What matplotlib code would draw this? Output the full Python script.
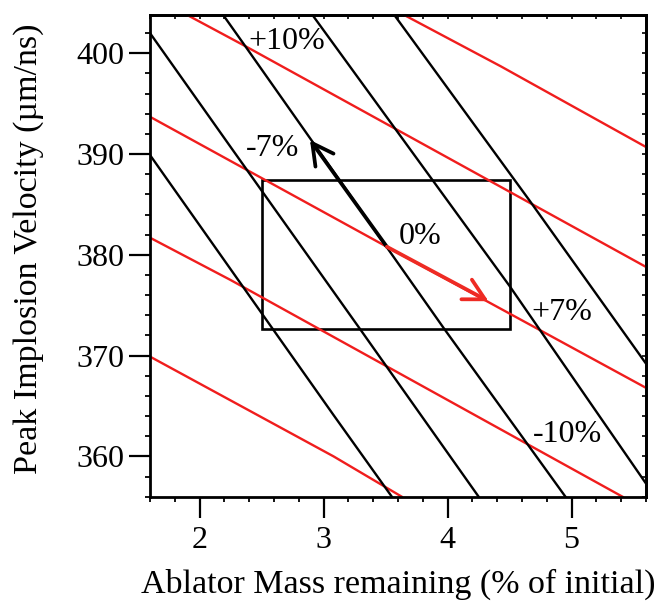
"""
Peak implosion velocity vs. remaining ablator mass: iso-yield contours
(black) and iso-areal-density contours (red), with the design window box.
"""

import matplotlib
matplotlib.use("Agg")
import matplotlib.pyplot as plt
from matplotlib.patches import Rectangle
from matplotlib.ticker import MultipleLocator, NullFormatter

plt.rcParams["font.family"] = ["Liberation Serif", "DejaVu Serif"]

X_LIM = (1.6, 5.6)
Y_LIM = (356.0, 403.8)

# black contours (start, point read mid-way, end)
black_x = [
    [1.60, 3.08, 3.55],
    [1.60, 2.25, 3.29, 4.25],
    [2.19, 2.38, 3.97, 4.95],
    [2.91, 4.50, 5.60],
    [3.57, 4.66, 5.60],
]
black_y = [
    [389.9, 364.1, 356.0],
    [402.0, 390.7, 372.7, 356.0],
    [403.8, 400.5, 372.7, 356.0],
    [403.8, 376.9, 357.3],
    [403.8, 385.4, 369.2],
]

# red contours
red_x = [
    [1.90, 2.37, 5.60],
    [1.60, 3.51, 5.60],
    [1.60, 2.25, 5.41],
    [1.60, 3.08, 3.63],
    [3.65, 4.43, 5.60],
]
red_y = [
    [403.8, 400.7, 378.8],
    [393.7, 380.8, 366.8],
    [381.7, 377.5, 356.0],
    [369.9, 360.0, 356.0],
    [403.8, 398.7, 390.7],
]

# design window
box_x = [2.5, 4.5]
box_y = [372.6, 387.4]

# arrows from the nominal point
origin = (3.51, 380.8)
black_tip = (2.89, 391.4)
red_tip = (4.33, 375.4)

# contour labels
label_text = ["+10%", "-7%", "0%", "+7%", "-10%"]
label_x = [2.70, 2.59, 3.78, 4.92, 4.97]
label_y = [401.2, 390.6, 381.8, 374.3, 362.2]

RED = "#f01d1d"
ARROW_RED = "#ee2b24"
FS = 23
LABEL_FS = 24.5

fig = plt.figure(figsize=(6.68, 6.03), dpi=100)
ax = fig.add_axes([0.2246, 0.1763, 0.7425, 0.7988])

for xs, ys in zip(red_x, red_y):
    ax.plot(xs, ys, color=RED, lw=1.7)
for xs, ys in zip(black_x, black_y):
    ax.plot(xs, ys, color="black", lw=1.7)

ax.add_patch(Rectangle((box_x[0], box_y[0]), box_x[1] - box_x[0],
                       box_y[1] - box_y[0], fill=False, ec="black", lw=1.9))

arrow = "->,head_length=0.75,head_width=0.4"
ax.annotate("", xy=black_tip, xytext=origin,
            arrowprops=dict(arrowstyle=arrow, color="black", lw=2.7,
                            mutation_scale=20, shrinkA=0, shrinkB=0))
ax.annotate("", xy=red_tip, xytext=origin,
            arrowprops=dict(arrowstyle=arrow, color=ARROW_RED, lw=2.7,
                            mutation_scale=20, shrinkA=0, shrinkB=0))

for s, x, y in zip(label_text, label_x, label_y):
    ax.text(x, y, s, ha="center", va="center", fontsize=FS)

ax.set_xlim(*X_LIM)
ax.set_ylim(*Y_LIM)
ax.xaxis.set_major_locator(MultipleLocator(1))
ax.xaxis.set_minor_locator(MultipleLocator(0.2))
ax.yaxis.set_major_locator(MultipleLocator(10))
ax.yaxis.set_minor_locator(MultipleLocator(2))
ax.tick_params(which="major", direction="out", length=15, width=1.6,
               labelsize=FS)
ax.tick_params(axis="x", which="major", pad=5.8)
ax.tick_params(axis="y", which="major", pad=3.2)
ax.tick_params(which="minor", direction="out", length=3.6, width=1.3)
for sp in ax.spines.values():
    sp.set_linewidth(2)

# short inward ticks on top and right
top = ax.secondary_xaxis("top")
top.xaxis.set_major_locator(MultipleLocator(0.2))
top.xaxis.set_major_formatter(NullFormatter())
top.tick_params(direction="in", length=3, width=1.2)
top.spines["top"].set_linewidth(2)
right = ax.secondary_yaxis("right")
right.yaxis.set_major_locator(MultipleLocator(2))
right.yaxis.set_major_formatter(NullFormatter())
right.tick_params(direction="in", length=3, width=1.2)
right.spines["right"].set_linewidth(2)

ax.set_xlabel("Ablator Mass remaining (% of initial)", fontsize=LABEL_FS)
ax.set_ylabel("Peak Implosion Velocity (µm/ns)", fontsize=LABEL_FS)
ax.xaxis.set_label_coords(0.5, -0.150)
ax.yaxis.set_label_coords(-0.213, 0.514)

fig.savefig("out.png", dpi=100)
